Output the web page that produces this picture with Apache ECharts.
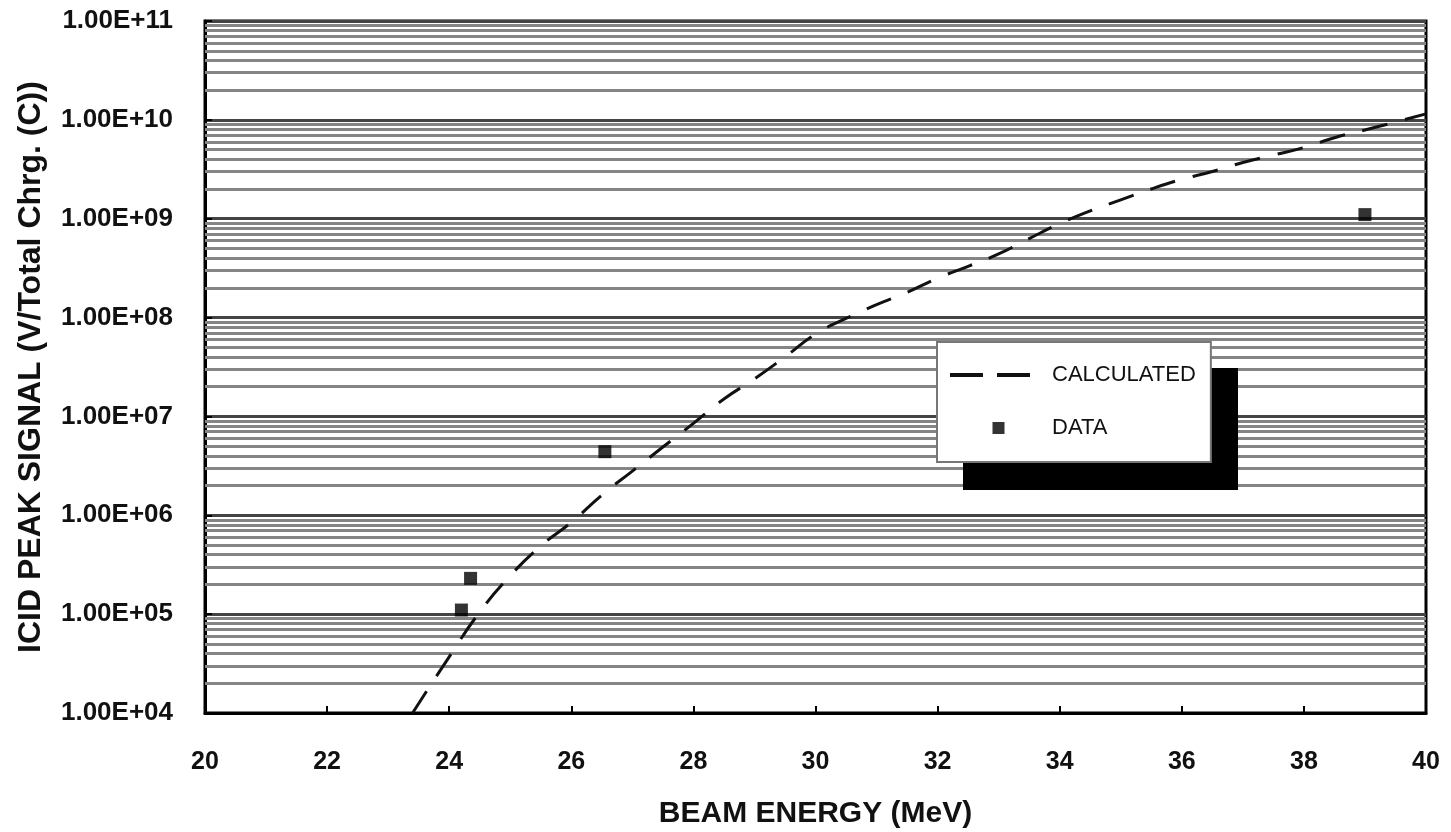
<!DOCTYPE html>
<html>
<head>
<meta charset="utf-8">
<script src="https://cdn.jsdelivr.net/npm/echarts@6/dist/echarts.min.js"></script>
<style>
html,body{margin:0;padding:0;background:#fff;}
#chart{width:1451px;height:832px;}
</style>
</head>
<body>
<div id="chart"></div>
<script>
// ---- data ----
const calcEnergy = [23.4, 24, 24.5, 25, 25.5, 26, 26.5, 27, 27.5, 28, 28.5, 29, 29.5, 30, 30.5, 31, 31.5, 32, 32.5, 33, 33.5, 34, 34.5, 35, 35.5, 36, 36.5, 37, 37.5, 38, 38.5, 39, 39.5, 40];
const calcSignal = [1.0e4, 3.7e4, 1.05e5, 2.45e5, 4.9e5, 8.5e5, 1.6e6, 2.8e6, 4.9e6, 8.5e6, 1.5e7, 2.4e7, 4.0e7, 6.8e7, 9.8e7, 1.35e8, 1.8e8, 2.5e8, 3.3e8, 4.4e8, 6.3e8, 8.9e8, 1.2e9, 1.55e9, 2.0e9, 2.5e9, 3.0e9, 3.7e9, 4.4e9, 5.25e9, 6.6e9, 7.9e9, 9.5e9, 1.15e10];
const dataEnergy = [24.2, 24.35, 26.55, 39.0];
const dataSignal = [1.1e5, 2.3e5, 4.4e6, 1.1e9];
const xTickLabels = ['20','22','24','26','28','30','32','34','36','38','40'];
const yTickLabels = ['1.00E+04','1.00E+05','1.00E+06','1.00E+07','1.00E+08','1.00E+09','1.00E+10','1.00E+11'];
const seriesNames = ['CALCULATED', 'DATA'];
const xAxisTitle = 'BEAM ENERGY (MeV)';
const yAxisTitle = 'ICID PEAK SIGNAL (V/Total Chrg. (C))';

// minor log gridlines (2..9 per decade)
const minorGrid = [];
for (let k = 4; k <= 10; k++) {
  for (let m = 2; m <= 9; m++) minorGrid.push({ yAxis: m * Math.pow(10, k) });
}

const FONT = '"Liberation Sans", Arial, sans-serif';
const chart = echarts.init(document.getElementById('chart'), null, { renderer: 'canvas' });

chart.setOption({
  animation: false,
  backgroundColor: '#fff',
  grid: {
    left: 205, right: 25, top: 21, bottom: 119,
    outerBoundsMode: 'none', containLabel: false,
    show: true, borderColor: '#000', borderWidth: 3, backgroundColor: 'transparent'
  },
  graphic: [
    { type: 'rect', z: 8, silent: true,
      shape: { x: 963, y: 368, width: 275, height: 122 },
      style: { fill: '#000' } }
  ],
  xAxis: {
    type: 'value', min: 20, max: 40, interval: 2,
    name: xAxisTitle, nameLocation: 'middle', nameGap: 86,
    nameTextStyle: { fontFamily: FONT, fontSize: 30, fontWeight: 'bold', color: '#111' },
    axisLine: { show: true, lineStyle: { color: '#000', width: 3 } },
    axisTick: { show: true, inside: true, length: 7, lineStyle: { color: '#000', width: 2 } },
    splitLine: { show: false },
    axisLabel: {
      margin: 37, fontFamily: FONT, fontSize: 25, fontWeight: 'bold', color: '#111',
      formatter: v => xTickLabels[Math.round((v - 20) / 2)]
    }
  },
  yAxis: {
    type: 'log', logBase: 10, min: 1e4, max: 1e11,
    name: yAxisTitle, nameLocation: 'middle', nameRotate: 90, nameGap: 158,
    nameTextStyle: { fontFamily: FONT, fontSize: 32, fontWeight: 'bold', color: '#111' },
    axisLine: { show: true, lineStyle: { color: '#000', width: 3 } },
    axisTick: { show: true, inside: true, length: 7, lineStyle: { color: '#000', width: 2 } },
    splitLine: { show: true, lineStyle: { color: '#444', width: 3 } },
    axisLabel: {
      margin: 32, fontFamily: FONT, fontSize: 26, fontWeight: 'bold', color: '#111',
      formatter: v => yTickLabels[Math.round(Math.log10(v)) - 4]
    }
  },
  legend: {
    z: 10,
    data: [
      { name: seriesNames[0], icon: 'path://M0,0H33V4H0Z M47,0H80V4H47Z M97,0H97.01V0.01H97Z', itemStyle: { color: '#111', borderWidth: 0 } },
      { name: seriesNames[1], icon: 'path://M0,0H1V1H0Z', itemStyle: { color: '#000', borderWidth: 0 } }
    ],
    orient: 'vertical', left: 937, top: 342,
    itemWidth: 97, itemHeight: 12, itemGap: 31,
    padding: [22, 15, 23, 13],
    backgroundColor: '#fff', borderColor: '#777', borderWidth: 2,
    textStyle: { fontFamily: FONT, fontSize: 22, color: '#111' },
    selectedMode: false
  },
  series: [
    {
      name: 'grid', type: 'line', data: [], silent: true, z: 1,
      markLine: {
        z: 1, silent: true, symbol: 'none', animation: false,
        label: { show: false },
        lineStyle: { color: '#858585', width: 3, type: 'solid' },
        data: minorGrid
      }
    },
    {
      name: seriesNames[0], type: 'line', z: 3,
      data: calcEnergy.map((x, i) => [x, calcSignal[i]]),
      showSymbol: false, symbol: 'none', smooth: true,
      lineStyle: { color: '#111', width: 3, type: [26, 18] },
      itemStyle: { color: '#111' }
    },
    {
      name: seriesNames[1], type: 'scatter', z: 4,
      data: dataEnergy.map((x, i) => [x, dataSignal[i]]),
      symbol: 'rect', symbolSize: 13,
      itemStyle: { color: '#000' }
    }
  ]
});
</script>
</body>
</html>
